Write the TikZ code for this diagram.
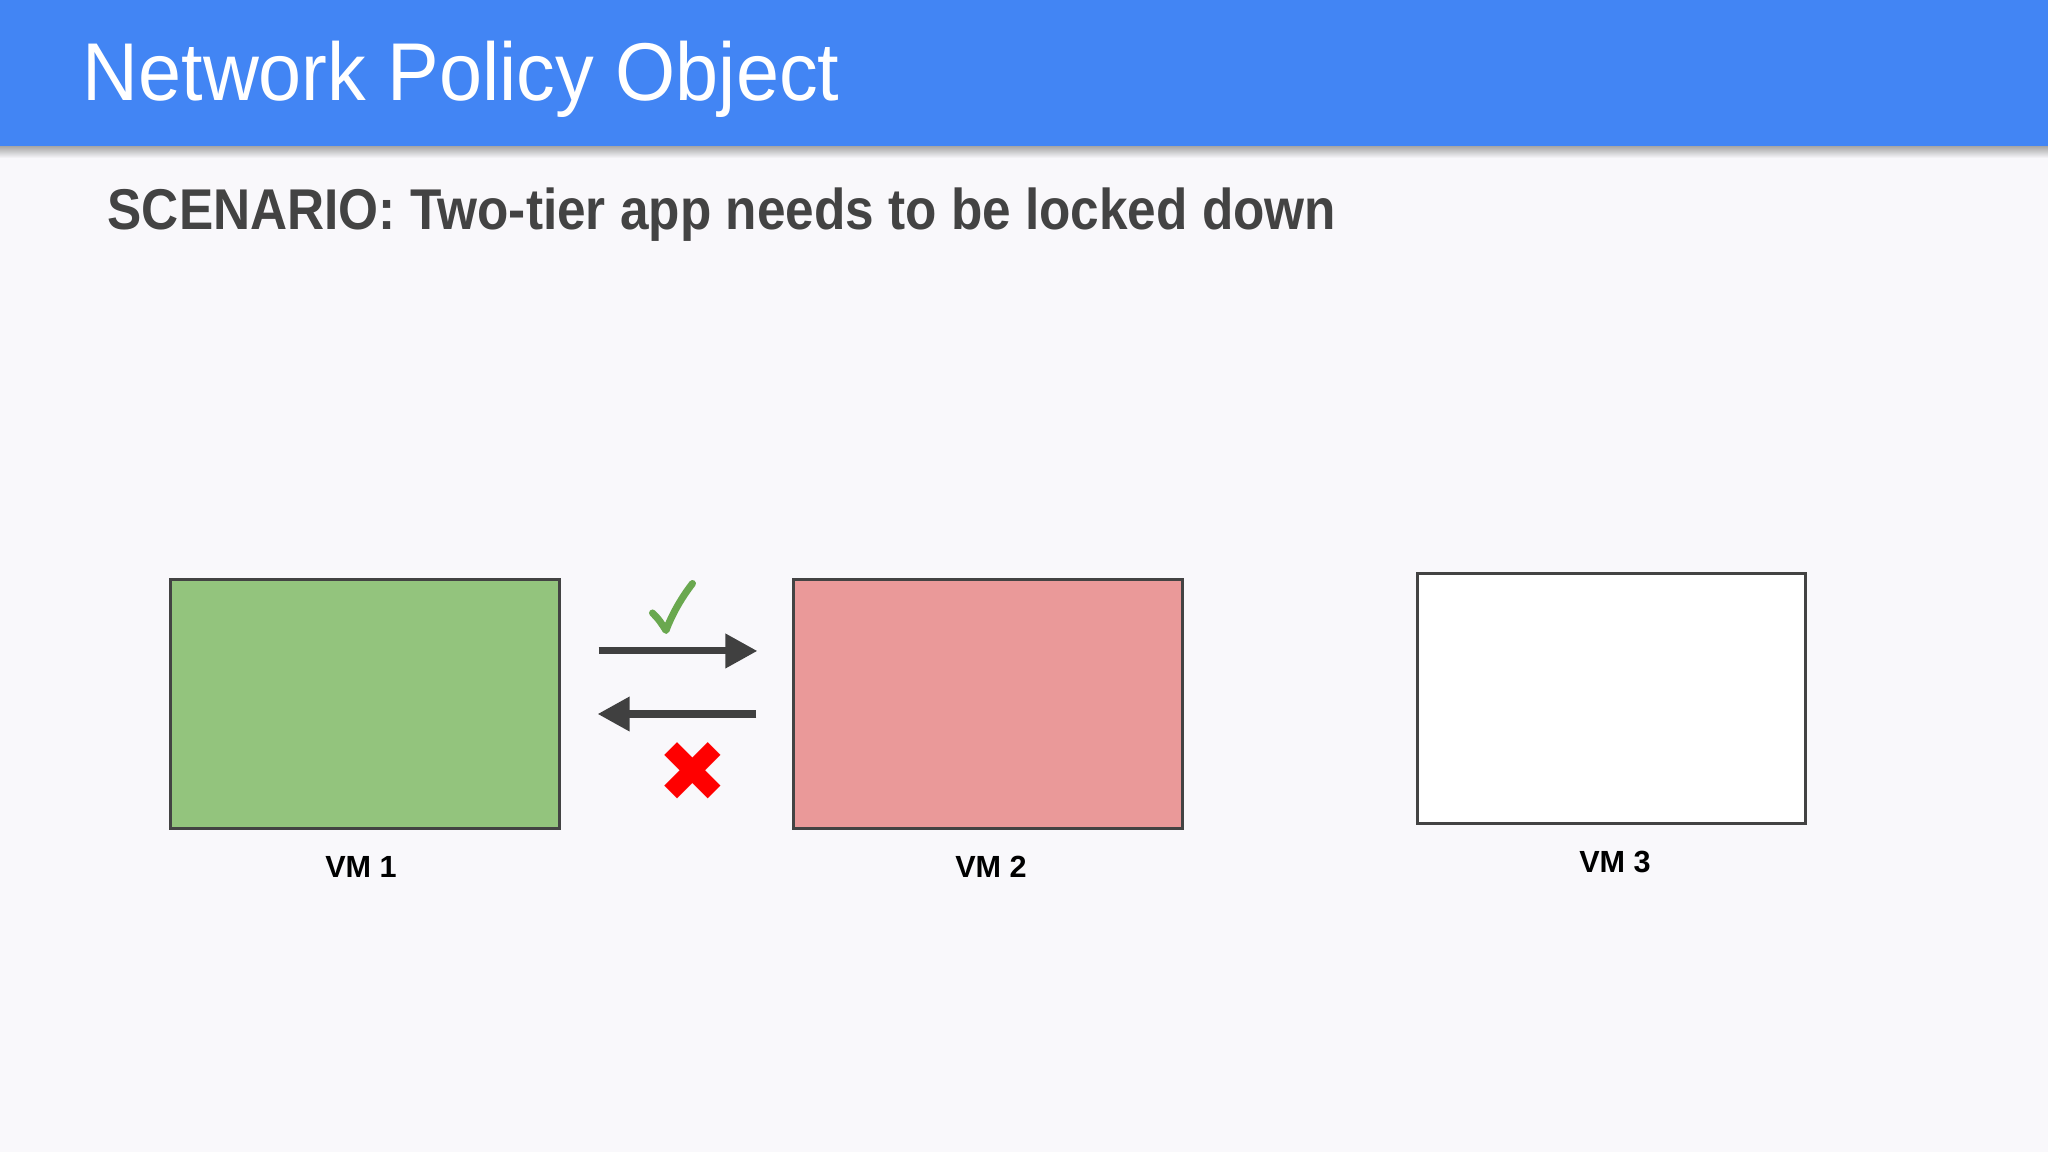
\documentclass[tikz,border=0pt]{standalone}
\usepackage{fontspec}
\setmainfont{Liberation Sans}
\newfontfamily\symfont{DejaVu Sans}
\usetikzlibrary{arrows.meta}
\definecolor{bgc}{HTML}{F9F8FB}
\definecolor{hdr}{HTML}{4285F4}
\definecolor{sub}{HTML}{434343}
\definecolor{edge}{HTML}{434343}
\definecolor{vmgreen}{HTML}{93C47D}
\definecolor{vmpink}{HTML}{EA9999}
\definecolor{okgreen}{HTML}{6AA84F}
\definecolor{arr}{HTML}{404040}
\tikzset{
  vmbox/.style={draw=edge, line width=0.85pt, minimum width=3.88cm, minimum height=2.49cm, inner sep=0pt},
  vmlabel/.style={anchor=base, inner sep=0pt, font=\fontsize{8.7pt}{10pt}\selectfont\bfseries, text=black},
  flow/.style={draw=arr, line width=2pt, -{Triangle[length=0.32cm,width=0.33cm]}},
}
\begin{document}
\begin{tikzpicture}[x=0.01cm,y=-0.01cm]
\useasboundingbox (0,0) rectangle (2048,1152);
\fill[bgc] (0,0) rectangle (2048,1152);
\shade[top color=black!35, bottom color=bgc] (0,146) rectangle (2048,158);
\fill[hdr] (0,0) rectangle (2048,146);
\node[anchor=base west, inner sep=0pt, text=white, yscale=1.06, transform shape, font=\fontsize{22pt}{26pt}\selectfont] (title) at (82,101) {Network Policy Object};
\node[anchor=base west, inner sep=0pt, text=sub, yscale=1.12, transform shape, font=\fontsize{14.6pt}{17pt}\selectfont\bfseries] (scen) at (107,230) {SCENARIO: Two-tier app needs to be locked down};
\node[vmbox, fill=vmgreen] (vm1) at (365,704) {};
\node[vmbox, fill=vmpink] (vm2) at (988,704) {};
\node[vmbox, fill=white] (vm3) at (1611.5,698.5) {};
\node[vmlabel] (l1) at (361,877) {VM 1};
\node[vmlabel] (l2) at (991,877) {VM 2};
\node[vmlabel] (l3) at (1615,872) {VM 3};
\draw[flow, shorten <=0.38cm, shorten >=0.35cm] ([yshift=0.53cm]vm1.east) -- ([yshift=0.53cm]vm2.west);
\draw[flow, shorten <=0.36cm, shorten >=0.37cm] ([yshift=-0.10cm]vm2.west) -- ([yshift=-0.10cm]vm1.east);
\draw[okgreen, line width=2pt, line cap=round, line join=round]
  (652.5,613) .. controls (658,618) and (662,624) .. (666,630.5)
  .. controls (672,614) and (682,597) .. (692.5,583.5);
\node[inner sep=0pt, text=red, font=\symfont\fontsize{24pt}{28pt}\selectfont] (no) at (693,772) {✖};
\end{tikzpicture}
\end{document}
